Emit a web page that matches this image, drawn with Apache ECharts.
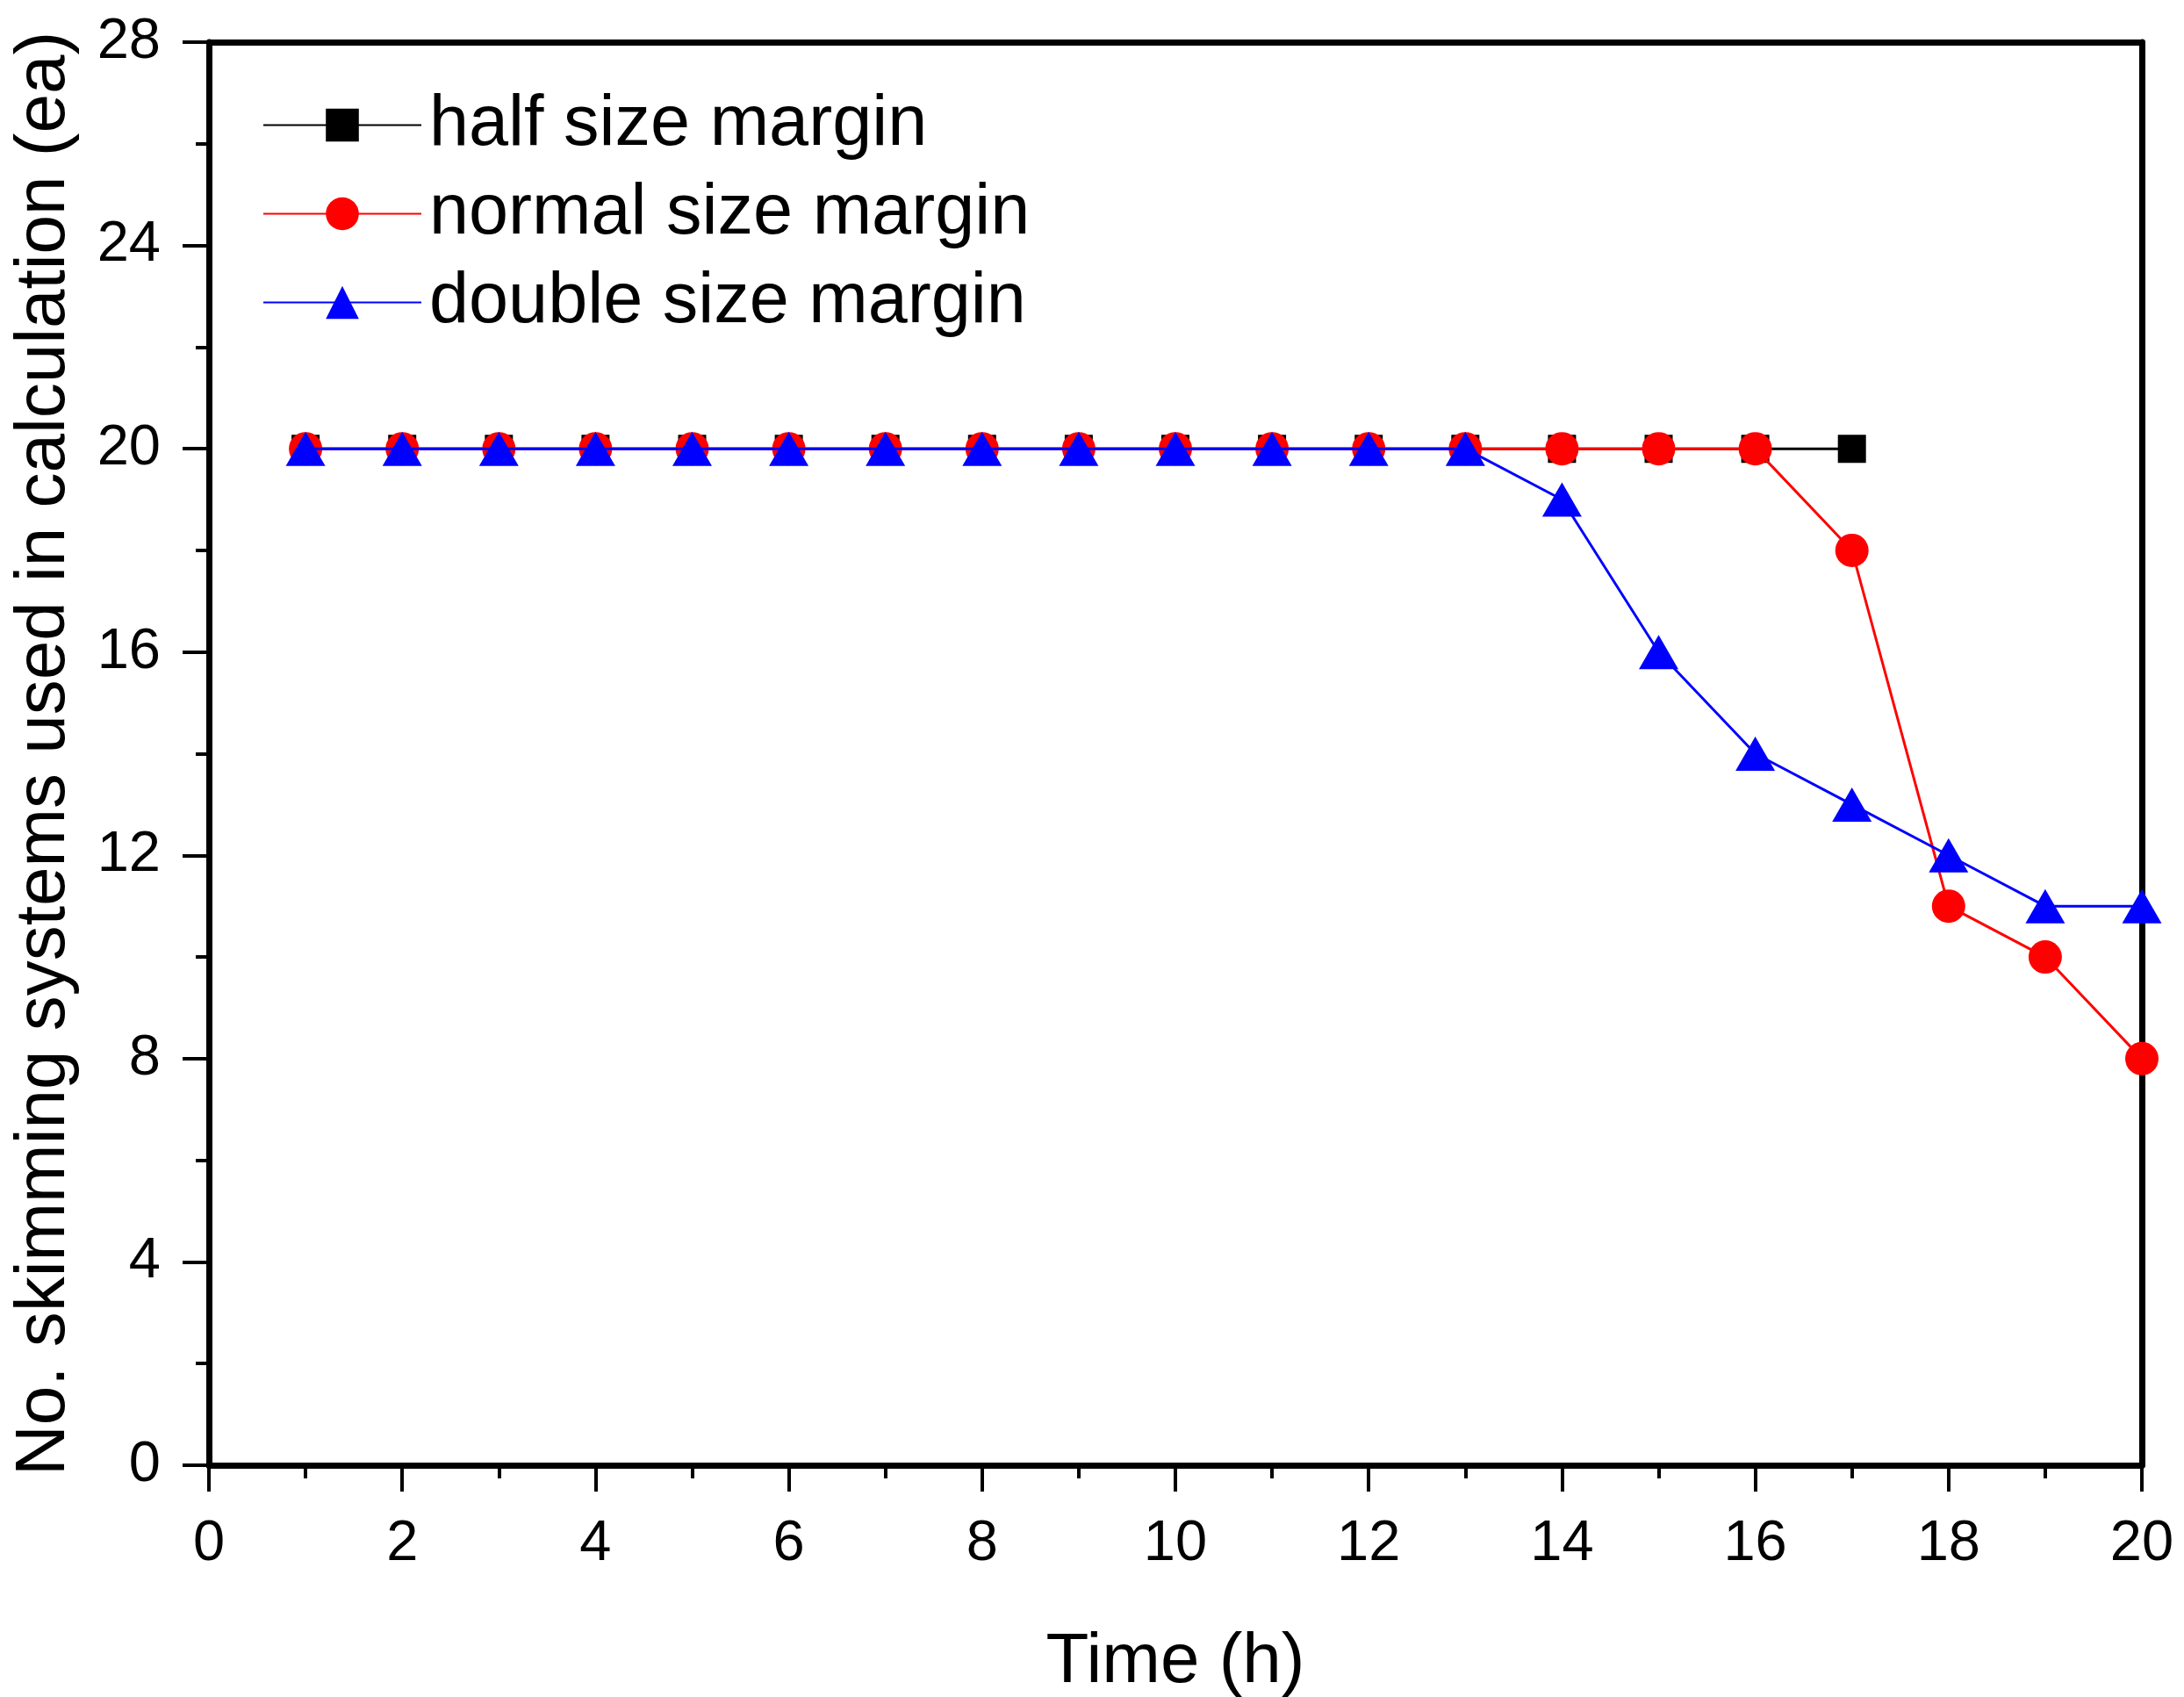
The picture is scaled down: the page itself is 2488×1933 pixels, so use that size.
<!DOCTYPE html>
<html>
<head>
<meta charset="utf-8">
<script src="https://cdn.jsdelivr.net/npm/echarts@6/dist/echarts.min.js"></script>
<style>
html,body{margin:0;padding:0;background:#fff;}
#chart{width:2488px;height:1933px;}
</style>
</head>
<body>
<div id="chart"></div>
<script>
const halfX = [1,2,3,4,5,6,7,8,9,10,11,12,13,14,15,16,17];
const halfY = [20,20,20,20,20,20,20,20,20,20,20,20,20,20,20,20,20];
const normalX = [1,2,3,4,5,6,7,8,9,10,11,12,13,14,15,16,17,18,19,20];
const normalY = [20,20,20,20,20,20,20,20,20,20,20,20,20,20,20,20,18,11,10,8];
const doubleX = [1,2,3,4,5,6,7,8,9,10,11,12,13,14,15,16,17,18,19,20];
const doubleY = [20,20,20,20,20,20,20,20,20,20,20,20,20,19,16,14,13,12,11,11];
const seriesNames = ['half size margin','normal size margin','double size margin'];
const xTitle = 'Time (h)';
const yTitle = 'No. skimming systems used in calculation (ea)';

const FONT = '"Liberation Sans", Arial, sans-serif';
const pairs = (xs, ys) => xs.map((x, i) => [x, ys[i]]);

const chart = echarts.init(document.getElementById('chart'), null, {renderer: 'canvas'});
const axisLine = {show: true, onZero: false, lineStyle: {color: '#000', width: 7}};
chart.setOption({
  animation: false,
  backgroundColor: '#fff',
  grid: {left: 238, right: 48, top: 48, bottom: 264, containLabel: false, outerBoundsMode: 'none'},
  legend: {
    left: 294, top: 97, orient: 'vertical',
    itemWidth: 180, itemHeight: 47, itemGap: 20,
    textStyle: {fontFamily: FONT, fontSize: 81, color: '#000', lineHeight: 79, padding: [0,0,0,4]},
    data: seriesNames
  },
  xAxis: [{
    type: 'value', min: 0, max: 20, interval: 2, position: 'bottom',
    name: xTitle, nameLocation: 'middle', nameGap: 185, nameMoveOverlap: false,
    nameTextStyle: {fontFamily: FONT, fontSize: 80, color: '#000'},
    axisLine: axisLine,
    axisTick: {show: true, inside: false, length: 30, lineStyle: {color: '#000', width: 4}},
    minorTick: {show: true, splitNumber: 2, length: 15, lineStyle: {color: '#000', width: 4}},
    axisLabel: {fontFamily: FONT, fontSize: 65, color: '#000', margin: 58},
    splitLine: {show: false}
  }, {
    type: 'value', min: 0, max: 20, position: 'top',
    axisLine: axisLine, axisTick: {show: false}, axisLabel: {show: false}, splitLine: {show: false}
  }],
  yAxis: [{
    type: 'value', min: 0, max: 28, interval: 4, position: 'left',
    name: yTitle, nameLocation: 'middle', nameGap: 147, nameRotate: 90, nameMoveOverlap: false,
    nameTextStyle: {fontFamily: FONT, fontSize: 80, color: '#000'},
    axisLine: axisLine,
    axisTick: {show: true, inside: false, length: 30, lineStyle: {color: '#000', width: 4}},
    minorTick: {show: true, splitNumber: 2, length: 15, lineStyle: {color: '#000', width: 4}},
    axisLabel: {fontFamily: FONT, fontSize: 65, color: '#000', margin: 55},
    splitLine: {show: false}
  }, {
    type: 'value', min: 0, max: 28, position: 'right',
    axisLine: axisLine, axisTick: {show: false}, axisLabel: {show: false}, splitLine: {show: false}
  }],
  series: [{
    name: seriesNames[0], type: 'line', data: pairs(halfX, halfY),
    symbol: 'rect', symbolSize: 32, showSymbol: true,
    lineStyle: {color: '#000', width: 3}, itemStyle: {color: '#000'}, z: 2
  }, {
    name: seriesNames[1], type: 'line', data: pairs(normalX, normalY),
    symbol: 'circle', symbolSize: 38, showSymbol: true,
    lineStyle: {color: '#ff0000', width: 3}, itemStyle: {color: '#ff0000'}, z: 3
  }, {
    name: seriesNames[2], type: 'line', data: pairs(doubleX, doubleY),
    symbol: 'triangle', symbolSize: [45, 39], showSymbol: true,
    lineStyle: {color: '#0000ff', width: 3}, itemStyle: {color: '#0000ff'}, z: 4
  }]
});
</script>
</body>
</html>
